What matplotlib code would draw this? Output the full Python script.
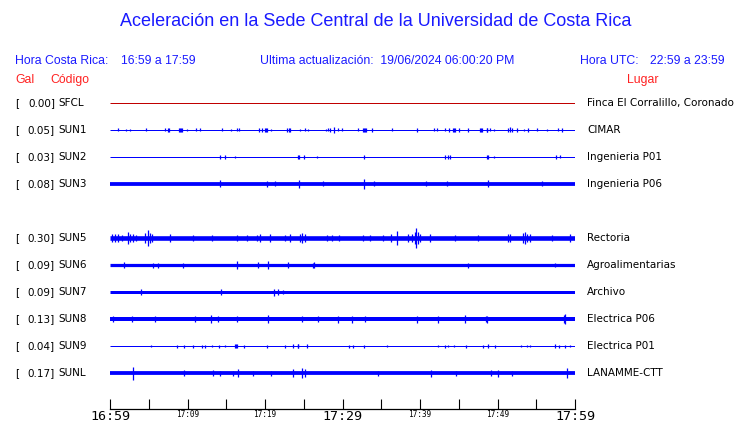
import matplotlib
matplotlib.use("Agg")
import matplotlib.pyplot as plt
from matplotlib.ticker import FixedLocator, FixedFormatter

# station table (top to bottom), slot 4 is an empty row
codes = ["SFCL", "SUN1", "SUN2", "SUN3", "SUN5", "SUN6", "SUN7", "SUN8", "SUN9", "SUNL"]
gal = [0.00, 0.05, 0.03, 0.08, 0.30, 0.09, 0.09, 0.13, 0.04, 0.17]
places = ["Finca El Corralillo, Coronado", "CIMAR", "Ingenieria P01", "Ingenieria P06",
          "Rectoria", "Agroalimentarias", "Archivo", "Electrica P06", "Electrica P01", "LANAMME-CTT"]
slots = [0, 1, 2, 3, 5, 6, 7, 8, 9, 10]

# background band half-width of each trace (pixels)
band = [0.5, 0.5, 0.5, 1.9, 2.3, 1.6, 1.5, 2.0, 0.5, 1.9]

# spikes: (minute after 16:59, half height in pixels)
sfcl_spikes = []
sun1_spikes = [(0.99, 1.5), (2.02, 1), (2.62, 1), (4.69, 1.5), (7.14, 1.5), (7.5, 2), (7.61, 2),
               (8.9, 2), (9.0, 2), (9.16, 2), (9.3, 2), (9.89, 1), (11.05, 1.5), (11.66, 1.5),
               (14.49, 1.5), (15.57, 1), (16.34, 1.5), (16.69, 1.5), (19.23, 2), (19.57, 2),
               (19.95, 2), (20.13, 2), (20.3, 2), (20.77, 1), (22.85, 2), (23.05, 2), (23.2, 2),
               (24.56, 1), (25.16, 1.5), (25.59, 1), (27.83, 1), (28.17, 1.5), (28.43, 2),
               (28.9, 3), (29.46, 1.5), (29.98, 1.5), (32.04, 1.5), (32.6, 2), (32.75, 2),
               (32.9, 2), (33.05, 2), (33.85, 2), (36.34, 1.5), (39.61, 2), (41.85, 1.5),
               (42.19, 1.5), (43.23, 1.5), (43.78, 2), (44.2, 2), (44.34, 2), (44.5, 2),
               (45.03, 2), (46.24, 2), (47.75, 2), (47.87, 2), (48.0, 2), (48.6, 2), (48.7, 2),
               (49.03, 1.5), (49.51, 1), (51.4, 2), (51.6, 2.5), (51.83, 2), (52.47, 2),
               (53.46, 1), (53.89, 2), (55.05, 1.5), (56.34, 1), (57.76, 1.5), (58.28, 2)]
sun2_spikes = [(14.24, 2), (14.84, 2), (16.17, 1), (24.3, 2), (24.39, 2), (24.99, 2),
               (26.75, 1), (32.82, 2), (43.23, 2), (43.57, 2), (43.91, 2), (48.65, 2),
               (48.73, 2), (49.59, 1), (57.51, 2), (58.11, 1.5)]
sun3_spikes = [(14.24, 3.5), (20.3, 3), (21.29, 2.5), (24.35, 4), (27.53, 2.5), (32.82, 5),
               (34.11, 2.5), (40.73, 2.5), (43.44, 2.5), (48.73, 3.5), (55.78, 2.5)]
sun5_spikes = [(0.3, 3.5), (0.65, 4), (1.0, 3.5), (1.5, 3), (2.37, 6), (2.6, 4), (3.01, 4),
               (3.3, 3), (4.5, 5), (4.86, 8), (5.1, 5), (5.38, 3.5), (7.74, 3.5), (10.75, 3),
               (13.12, 3), (16.34, 3), (17.63, 3), (19.0, 3), (19.35, 3.5), (20.65, 4),
               (22.58, 3), (23.23, 4), (24.5, 4), (24.73, 5), (25.16, 3.5), (27.96, 3),
               (28.6, 2.5), (29.5, 3), (32.69, 3), (33.5, 3), (35.27, 3), (36.3, 4),
               (37.0, 6.5), (38.5, 3.5), (38.92, 4), (39.3, 6), (39.48, 10), (39.7, 6),
               (40.0, 4), (41.29, 4), (44.52, 3), (47.53, 3), (51.3, 3.5), (51.6, 3.5),
               (53.3, 4.5), (53.55, 6), (53.8, 4), (54.19, 3.5), (57.0, 3), (59.35, 4)]
sun6_spikes = [(1.81, 3), (5.59, 2.5), (6.24, 2.5), (9.38, 2.5), (16.34, 4), (19.14, 3),
               (20.43, 4), (22.92, 3), (26.2, 2.5), (26.37, 3), (46.24, 2.5), (57.42, 2)]
sun7_spikes = [(3.96, 3), (14.28, 3), (21.2, 3.5), (21.63, 3), (22.28, 2)]
sun8_spikes = [(0.43, 3), (2.8, 3), (5.81, 3), (10.97, 3), (13.03, 4), (13.98, 3), (16.34, 3),
               (20.43, 4), (24.73, 3), (26.88, 3), (29.46, 3.5), (31.18, 3.5), (32.9, 3),
               (39.57, 3.5), (42.37, 3.5), (45.81, 4), (48.5, 3), (48.6, 3.5), (58.6, 4),
               (58.71, 5)]
sun9_spikes = [(5.25, 1), (8.69, 1.5), (9.59, 1.5), (10.75, 1.5), (11.83, 1.5), (12.2, 1.5),
               (13.12, 1), (14.11, 1.5), (14.84, 1), (16.15, 2), (16.26, 2), (16.4, 2),
               (17.29, 1.5), (20.3, 1.5), (22.58, 1.5), (23.6, 2), (24.2, 2), (24.3, 2),
               (25.38, 2), (30.84, 1.5), (31.3, 1.5), (32.82, 1.5), (35.7, 1), (42.37, 1),
               (43.23, 1.5), (43.57, 1), (44.43, 1), (45.89, 1.5), (48.17, 1.5), (48.73, 2),
               (49.68, 1.5), (53.03, 1), (53.76, 1), (54.2, 1), (57.42, 2), (57.98, 1.5),
               (58.71, 1.5), (59.35, 1)]
sunl_spikes = [(3.01, 6.5), (9.55, 3), (13.33, 3), (14.19, 2.5), (15.83, 2.5), (16.47, 4),
               (18.4, 2.5), (20.77, 2.5), (23.57, 4), (24.73, 5), (25.16, 4), (34.54, 2.5),
               (41.42, 3.5), (44.6, 2.5), (49.16, 3), (50.02, 3.5), (51.9, 2.5), (58.92, 5)]
spikes = [sfcl_spikes, sun1_spikes, sun2_spikes, sun3_spikes, sun5_spikes,
          sun6_spikes, sun7_spikes, sun8_spikes, sun9_spikes, sunl_spikes]

tick_minutes = list(range(0, 61, 5))
big_labels = {0: "16:59", 30: "17:29", 60: "17:59"}
small_labels = {10: "17:09", 20: "17:19", 40: "17:39", 50: "17:49"}

W, H = 740, 423
fig = plt.figure(figsize=(W / 100, H / 100), dpi=100)
BLUE = "#1a1aff"
RED = "#ff2020"
hdr = "Liberation Sans"

def fx(px):
    return px / W

def fy(py):
    return 1 - py / H

fig.text(0.508, fy(22), "Aceleración en la Sede Central de la Universidad de Costa Rica",
         ha="center", va="center", color=BLUE, fontsize=13.0, family=hdr)
fig.text(fx(15), fy(61), "Hora Costa Rica:", color=BLUE, fontsize=8.8, family=hdr, va="center")
fig.text(fx(121), fy(61), "16:59 a 17:59", color=BLUE, fontsize=8.8, family=hdr, va="center")
fig.text(fx(260), fy(61), "Ultima actualización:  19/06/2024 06:00:20 PM", color=BLUE,
         fontsize=8.8, family=hdr, va="center")
fig.text(fx(580), fy(61), "Hora UTC:", color=BLUE, fontsize=8.8, family=hdr, va="center")
fig.text(fx(650), fy(61), "22:59 a 23:59", color=BLUE, fontsize=8.8, family=hdr, va="center")
fig.text(fx(15), fy(80), "Gal", color=RED, fontsize=8.8, family=hdr, va="center")
fig.text(fx(50), fy(80), "Código", color=RED, fontsize=8.8, family=hdr, va="center")
fig.text(fx(627), fy(80), "Lugar", color=RED, fontsize=8.8, family=hdr, va="center")

# trace area: x in minutes, y in row slots
ax = fig.add_axes([fx(110), fy(386), fx(575) - fx(110), fy(90) - fy(386)])
ax.set_xlim(0, 60)
ax.set_ylim(10.48, -0.48)
ax.axis("off")
px = 1 / 27.0  # one pixel in slot units

for i, s in enumerate(slots):
    color = "#c00000" if codes[i] == "SFCL" else "blue"
    # base band, drawn as a line whose width is the band thickness (1 px = 0.72 pt)
    ax.hlines(s, 0, 60, color=color, lw=max(0.72, 2 * band[i] * 0.72), capstyle="butt")
    if spikes[i]:
        xs = [m for m, a in spikes[i]]
        hs = [a * px for m, a in spikes[i]]
        ax.vlines(xs, [s - a for a in hs], [s + a for a in hs], color=color, lw=0.9)
    yy = fy(103 + 27 * s)
    fig.text(fx(15), yy, "[", fontsize=7.5, va="center", family="DejaVu Sans")
    fig.text(fx(55), yy, f"{gal[i]:.2f}]", fontsize=7.5, va="center", ha="right", family="DejaVu Sans")
    fig.text(fx(58.5), yy, codes[i], fontsize=7.5, va="center", family="DejaVu Sans")
    fig.text(fx(587), yy, places[i], fontsize=7.5, va="center", family="DejaVu Sans")

# time axis
axt = fig.add_axes([fx(110), fy(409), fx(575) - fx(110), 0.0001])
axt.set_xlim(0, 60)
axt.set_yticks([])
for side in ["top", "left", "right"]:
    axt.spines[side].set_visible(False)
axt.spines["bottom"].set_linewidth(0.9)
axt.xaxis.set_major_locator(FixedLocator(list(big_labels.keys())))
axt.xaxis.set_major_formatter(FixedFormatter(list(big_labels.values())))
minor = [m for m in tick_minutes if m not in big_labels]
axt.xaxis.set_minor_locator(FixedLocator(minor))
axt.xaxis.set_minor_formatter(FixedFormatter([small_labels.get(m, "") for m in minor]))
axt.tick_params(which="both", direction="in", length=7.5, width=0.8)
axt.tick_params(which="major", labelsize=9.6, pad=1.0)
axt.tick_params(which="minor", labelsize=5.6, pad=0.5)
for lab in axt.get_xticklabels(which="both"):
    lab.set_family("DejaVu Sans Mono")

fig.savefig("out.png", dpi=100)
